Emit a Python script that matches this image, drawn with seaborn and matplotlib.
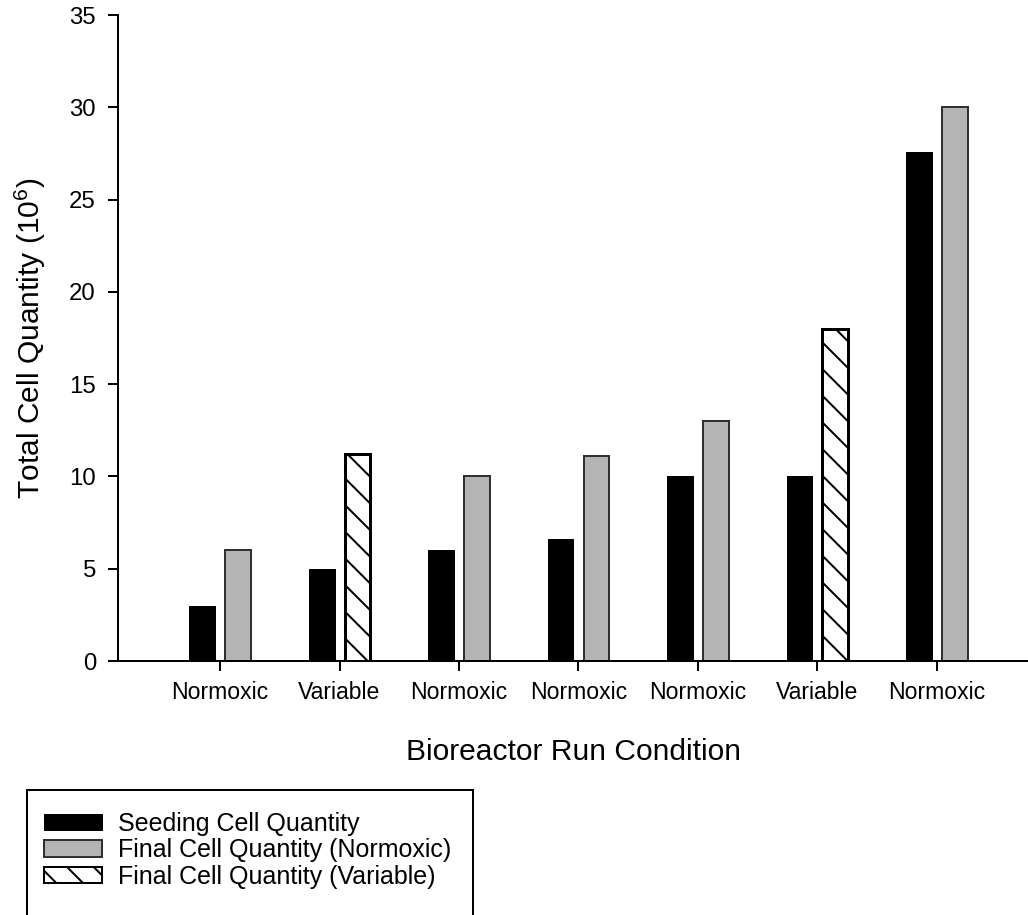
import matplotlib
matplotlib.use("Agg")
import matplotlib.pyplot as plt
from matplotlib.patches import Patch, Rectangle
import seaborn as sns
import pandas as pd

# Bioreactor runs, in plotting order
run_ids = ["1", "2", "3", "4", "5", "6", "7"]
conditions = ["Normoxic", "Variable", "Normoxic", "Normoxic", "Normoxic", "Variable", "Normoxic"]
seeding_qty = [3.0, 5.0, 6.0, 6.6, 10.0, 10.0, 27.6]
final_qty = [6.0, 11.2, 10.0, 11.1, 13.0, 18.0, 30.0]

series_names = ["Seeding", "Final"]
legend_labels = ["Seeding Cell Quantity",
                 "Final Cell Quantity (Normoxic)",
                 "Final Cell Quantity (Variable)"]

DPI = 160
W, H = 1028, 915


def px(v):
    """pixels -> points at the figure resolution"""
    return v * 72.0 / DPI


sns.set_theme(style="ticks")
plt.rcParams["font.family"] = ["Liberation Sans", "DejaVu Sans"]
plt.rcParams["mathtext.default"] = "regular"
plt.rcParams["hatch.linewidth"] = px(2.0)
for key in ("text.color", "axes.labelcolor", "xtick.color", "ytick.color"):
    plt.rcParams[key] = "black"

df = pd.DataFrame({
    "run": run_ids * 2,
    "series": [series_names[0]] * len(run_ids) + [series_names[1]] * len(run_ids),
    "qty": seeding_qty + final_qty,
})

fig = plt.figure(figsize=(W / DPI, H / DPI), dpi=DPI)
ax = fig.add_axes([118 / W, 1 - 661 / H, (W - 118) / W, (661 - 15) / H])

sns.barplot(data=df, x="run", y="qty", hue="series", order=run_ids,
            hue_order=series_names, width=0.6, gap=0.28, ax=ax,
            errorbar=None, legend=False)

GRAY = "#b4b4b4"
HATCH = "\\\\"
seed_bars, final_bars = ax.containers[0], ax.containers[1]
for bar in seed_bars:
    bar.set_facecolor("black")
    bar.set_edgecolor("black")
    bar.set_linewidth(px(1))
for bar, cond in zip(final_bars, conditions):
    if cond == "Variable":
        bar.set_facecolor("white")
        bar.set_edgecolor("black")
        bar.set_hatch(HATCH)
        bar.set_linewidth(px(3))
    else:
        bar.set_facecolor(GRAY)
        bar.set_edgecolor("#303030")
        bar.set_linewidth(px(2))

ax.set_ylim(0, 35)
ax.set_yticks(range(0, 36, 5))
ax.set_xlim(-0.854, 6.762)
ax.set_xticks(range(len(run_ids)))
ax.set_xticklabels(conditions)

for side in ("top", "right"):
    ax.spines[side].set_visible(False)
for side in ("left", "bottom"):
    ax.spines[side].set_linewidth(px(2))
    ax.spines[side].set_color("black")

ax.tick_params(axis="both", direction="out", length=px(10), width=px(2),
               colors="black")
ax.tick_params(axis="x", pad=px(10), labelsize=px(23))
ax.tick_params(axis="y", pad=px(12), labelsize=px(24))

ax.set_xlabel("Bioreactor Run Condition", fontsize=px(30), labelpad=px(34))
ax.set_ylabel("Total Cell Quantity (10$^{6}$)", fontsize=px(30), labelpad=px(21))

handles = [
    Patch(facecolor="black", edgecolor="black", linewidth=px(1)),
    Patch(facecolor=GRAY, edgecolor="#303030", linewidth=px(2)),
    Patch(facecolor="white", edgecolor="black", hatch=HATCH, linewidth=px(2)),
]
fig.legend(handles, legend_labels, loc="upper left",
           bbox_to_anchor=(44 / W, 1 - 812 / H), bbox_transform=fig.transFigure,
           frameon=False, fontsize=px(25), borderpad=0, borderaxespad=0,
           handlelength=2.3, handleheight=0.64, handletextpad=0.64,
           labelspacing=0.1)

# Legend box running off the bottom of the figure
fig.patches.append(Rectangle((27 / W, -0.02), (473 - 27) / W, (915 - 790) / H + 0.02,
                             transform=fig.transFigure, fill=False,
                             edgecolor="black", linewidth=px(2)))

fig.savefig("out.png", dpi=DPI)
